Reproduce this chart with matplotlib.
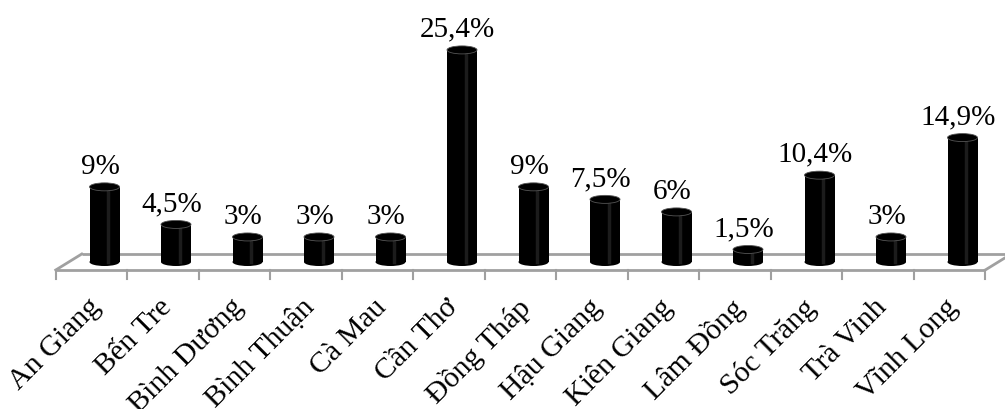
import matplotlib
matplotlib.use("Agg")
import matplotlib.pyplot as plt
from matplotlib.patches import Ellipse, Rectangle
import numpy as np

categories = ["An Giang", "Bến Tre", "Bình Dương", "Bình Thuận", "Cà Mau", "Cần Thơ",
              "Đồng Tháp", "Hậu Giang", "Kiên Giang", "Lâm Đồng", "Sóc Trăng", "Trà Vinh", "Vĩnh Long"]
values = [9, 4.5, 3, 3, 3, 25.4, 9, 7.5, 6, 1.5, 10.4, 3, 14.9]
value_labels = ["9%", "4,5%", "3%", "3%", "3%", "25,4%", "9%", "7,5%", "6%", "1,5%", "10,4%", "3%", "14,9%"]

plt.rcParams['font.family'] = ['Liberation Serif', 'DejaVu Serif']

W, H = 1005, 410
fig = plt.figure(figsize=(W / 100, H / 100), dpi=100)
ax = fig.add_axes([0, 0, 1, 1])
px_x = 71.5   # pixels per category
px_y = 8.35   # pixels per percent
x0_px = 104.5 # pixel of first bar center
y0_px = 147   # pixel (from bottom) of bar base
ax.set_xlim(-x0_px / px_x, (W - x0_px) / px_x)
ax.set_ylim(-y0_px / px_y, (H - y0_px) / px_y)
ax.axis('off')

n = len(categories)
dx = 13 / px_x     # half depth offset in x
dy = 8 / px_y      # half depth offset in y
floor_col = '#a0a0a0'
xl, xr = -0.5, n - 0.5
ax.plot([xl - dx, xr - dx], [-dy, -dy], color=floor_col, lw=2, zorder=1, solid_capstyle='butt')
ax.plot([xl + dx, xr + dx], [dy, dy], color=floor_col, lw=2, zorder=1, solid_capstyle='butt')
ax.plot([xl - dx, xl + dx], [-dy, dy], color=floor_col, lw=2, zorder=1)
ax.plot([xr - dx, xr + dx], [-dy, dy], color=floor_col, lw=2, zorder=1)
tick_len = 9 / px_y
for k in range(n + 1):
    xt = k - 0.5 - dx
    ax.plot([xt, xt], [-dy, -dy - tick_len], color=floor_col, lw=1.5, zorder=1)

bw = 30 / px_x
eh = 8 / px_y
for i, v in enumerate(values):
    ax.add_patch(Rectangle((i - bw / 2, 0), bw, v, facecolor='black', edgecolor='none', zorder=3))
    ax.add_patch(Ellipse((i, 0), bw, eh, facecolor='black', edgecolor='none', zorder=3))
    ax.add_patch(Ellipse((i, v), bw, eh, facecolor='black', edgecolor='#555555', lw=0.6, zorder=4))
    ax.plot([i + bw * 0.12, i + bw * 0.12], [0, v], color='#1c1c1c', lw=2.5, zorder=3.5)
    ax.text(i - 0.06, v + 1.0, value_labels[i], ha='center', va='bottom', fontsize=21, color='black', zorder=5)

for i, c in enumerate(categories):
    ax.text(i - dx - 0.06, (116 - y0_px) / px_y, c, rotation=45, rotation_mode='anchor',
            ha='right', va='top', fontsize=21.5, color='black')

fig.savefig('out.png', dpi=100)
